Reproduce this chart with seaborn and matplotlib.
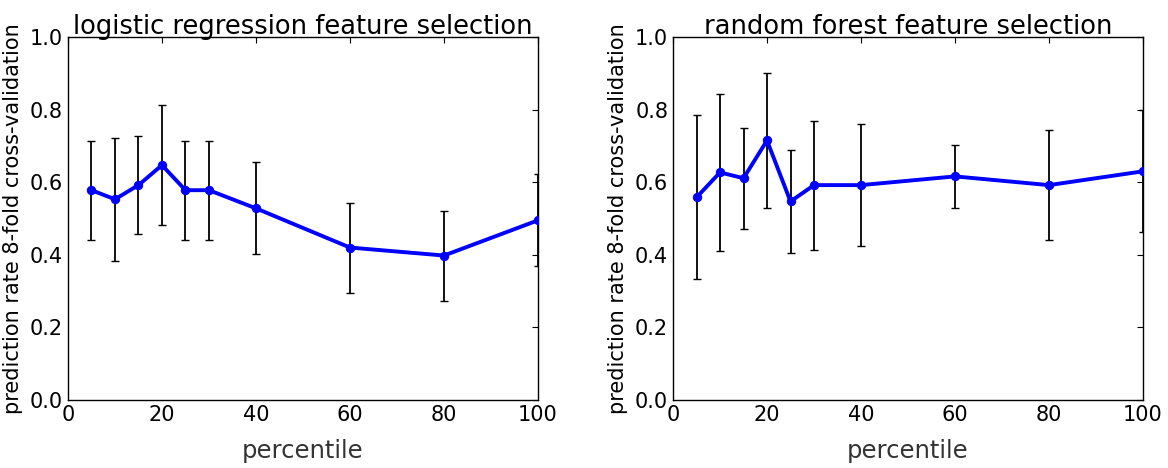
import matplotlib
matplotlib.use("Agg")
import matplotlib.pyplot as plt
import pandas as pd
import seaborn as sns

percentiles = [5, 10, 15, 20, 25, 30, 40, 60, 80, 100]

lr_score = [0.578, 0.553, 0.592, 0.647, 0.578, 0.578, 0.528, 0.420, 0.398, 0.495]
lr_err = [0.136, 0.170, 0.134, 0.166, 0.136, 0.136, 0.127, 0.124, 0.124, 0.127]

rf_score = [0.558, 0.627, 0.611, 0.715, 0.547, 0.592, 0.592, 0.616, 0.592, 0.630]
rf_err = [0.226, 0.217, 0.139, 0.186, 0.141, 0.178, 0.167, 0.086, 0.151, 0.168]

titles = ["logistic regression feature selection", "random forest feature selection"]

sns.set_theme(style="white")
plt.rcParams["font.family"] = ["DejaVu Sans"]
plt.rcParams.update({
    "text.color": "black", "axes.labelcolor": "black",
    "xtick.direction": "in", "ytick.direction": "in",
    "xtick.top": True, "ytick.right": True,
    "xtick.major.size": 4, "ytick.major.size": 4,
    "xtick.major.width": 0.8, "ytick.major.width": 0.8,
    "xtick.color": "black", "ytick.color": "black",
    "axes.edgecolor": "black", "axes.linewidth": 1.0,
    "xtick.labelsize": 15, "ytick.labelsize": 15,
})

fig = plt.figure(figsize=(11.68, 4.68), dpi=100)
axes = [fig.add_axes([0.0582, 0.1453, 0.4024, 0.7756]),
        fig.add_axes([0.5762, 0.1453, 0.4024, 0.7756])]

for ax, title, score, err in zip(axes, titles, [lr_score, rf_score], [lr_err, rf_err]):
    df = pd.DataFrame({"percentile": percentiles, "score": score, "err": err})
    ax.errorbar(df["percentile"], df["score"], yerr=df["err"], fmt="none",
                ecolor="black", elinewidth=1.3, capsize=3, capthick=1.0, zorder=2)
    sns.lineplot(data=df, x="percentile", y="score", ax=ax, color="blue",
                 linewidth=2.8, marker="o", markersize=6, markeredgecolor="blue",
                 zorder=3)
    ax.set_xlim(0, 100)
    ax.set_ylim(0, 1.0)
    ax.set_xticks([0, 20, 40, 60, 80, 100])
    ax.set_yticks([0.0, 0.2, 0.4, 0.6, 0.8, 1.0])
    ax.set_title(title, fontsize=18.5, pad=2)
    ax.set_xlabel("percentile", fontsize=17.5, labelpad=10, color="#333333")
    ax.set_ylabel("prediction rate 8-fold cross-validation", fontsize=15, labelpad=5)
    for s in ax.spines.values():
        s.set_visible(True)

fig.savefig("out.png", dpi=100)
